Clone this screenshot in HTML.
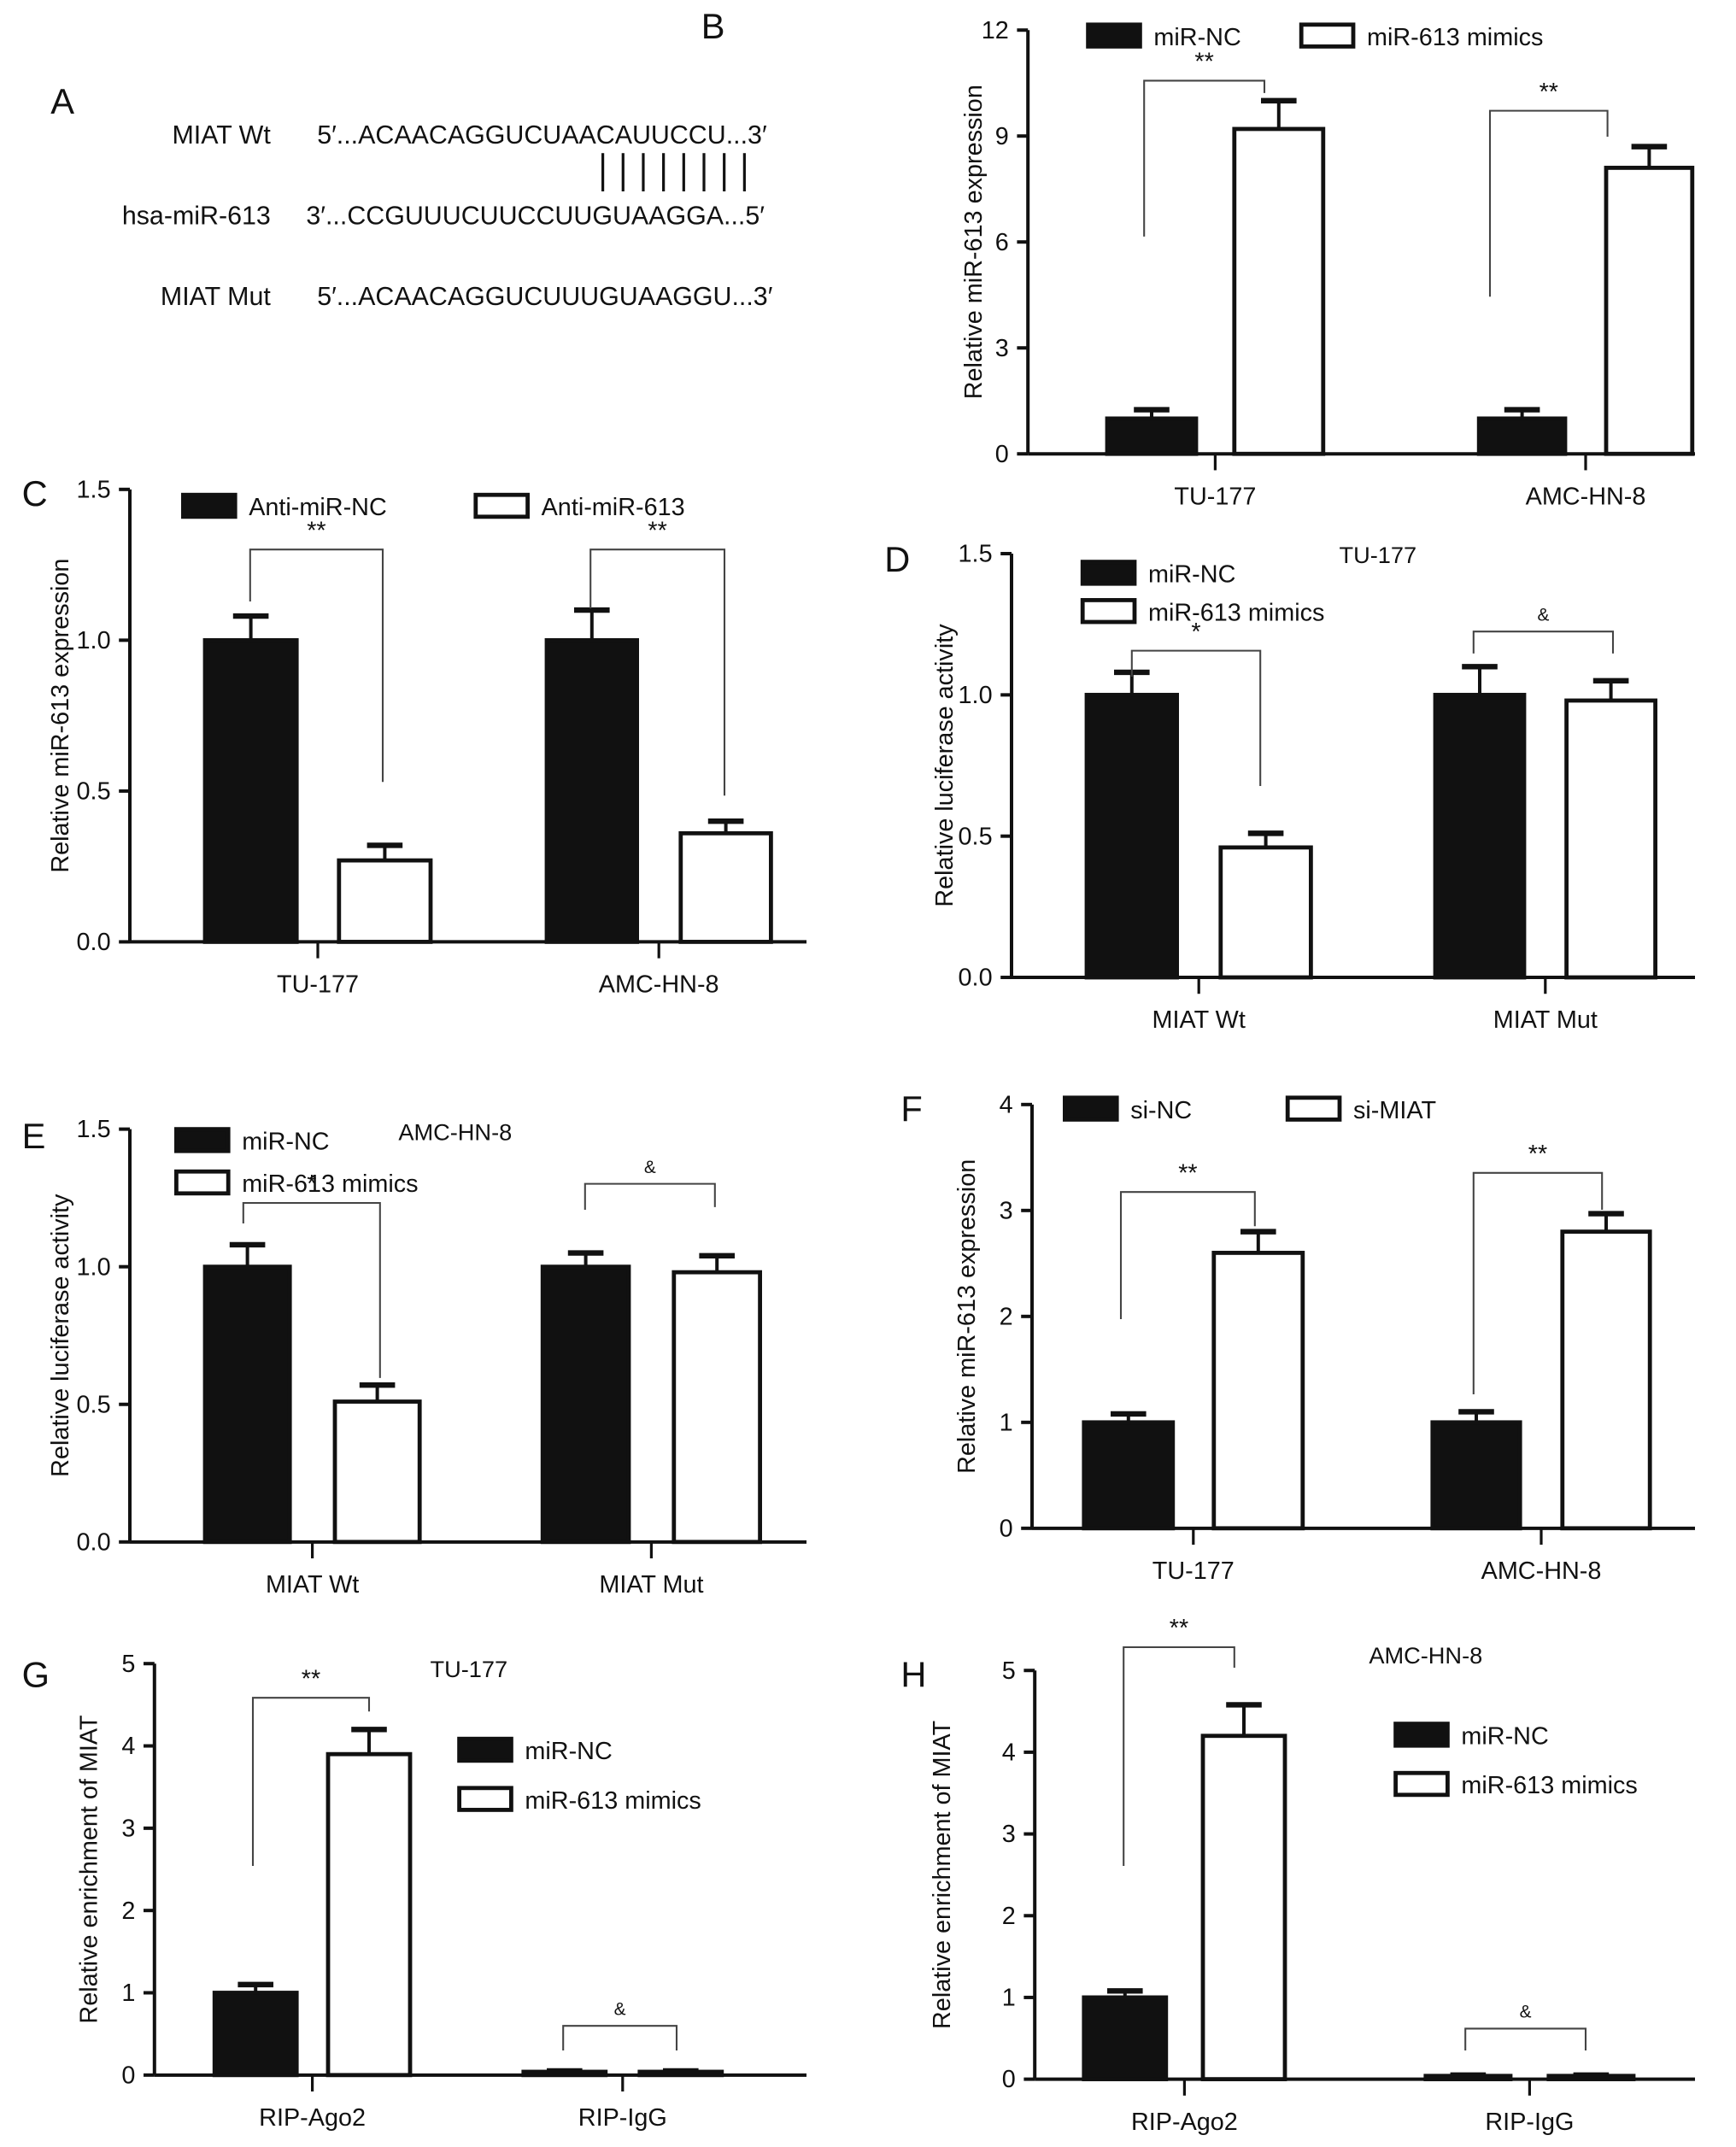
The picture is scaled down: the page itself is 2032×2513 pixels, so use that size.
<!DOCTYPE html>
<html><head><meta charset="utf-8">
<style>
html,body{margin:0;padding:0;background:#fff;}
svg{display:block;font-family:"Liberation Sans",Arial,sans-serif;}
</style></head>
<body>
<svg id="fig" xmlns="http://www.w3.org/2000/svg" width="2032" height="2513" viewBox="0 0 1270 1570.6">
<rect width="1270" height="1571" fill="#fff"/>
<g font-size="19" fill="#111">
<text x="37" y="83" font-size="26">A</text>
<text x="198" y="105" text-anchor="end">MIAT Wt</text>
<text x="232" y="105">5′...ACAACAGGUCUAACAUUCCU...3′</text>
<text x="198" y="164" text-anchor="end">hsa-miR-613</text>
<text x="224" y="164">3′...CCGUUUCUUCCUUGUAAGGA...5′</text>
<text x="198" y="223" text-anchor="end">MIAT Mut</text>
<text x="232" y="223">5′...ACAACAGGUCUUUGUAAGGU...3′</text>
<g id="pairs" stroke="#111" stroke-width="2"></g>
</g>
<g id="charts"></g>
</svg>
<script>
// Panel B
const bCats=["TU-177","AMC-HN-8"], bNC=[1.0,1.0], bNCErr=[0.25,0.25], bMim=[9.2,8.1], bMimErr=[0.8,0.6], bTicks=[0,3,6,9,12];
// Panel C
const cCats=["TU-177","AMC-HN-8"], cNC=[1.0,1.0], cNCErr=[0.08,0.1], cAnti=[0.27,0.36], cAntiErr=[0.05,0.04], cTicks=[0,0.5,1.0,1.5];
// Panel D
const dCats=["MIAT Wt","MIAT Mut"], dNC=[1.0,1.0], dNCErr=[0.08,0.1], dMim=[0.46,0.98], dMimErr=[0.05,0.07], dTicks=[0,0.5,1.0,1.5];
// Panel E
const eCats=["MIAT Wt","MIAT Mut"], eNC=[1.0,1.0], eNCErr=[0.08,0.05], eMim=[0.51,0.98], eMimErr=[0.06,0.06], eTicks=[0,0.5,1.0,1.5];
// Panel F
const fCats=["TU-177","AMC-HN-8"], fNC=[1.0,1.0], fNCErr=[0.08,0.1], fSi=[2.6,2.8], fSiErr=[0.2,0.17], fTicks=[0,1,2,3,4];
// Panel G
const gCats=["RIP-Ago2","RIP-IgG"], gNC=[1.0,0.04], gNCErr=[0.1,0.01], gMim=[3.9,0.04], gMimErr=[0.3,0.01], gTicks=[0,1,2,3,4,5];
// Panel H
const hCats=["RIP-Ago2","RIP-IgG"], hNC=[1.0,0.04], hNCErr=[0.08,0.01], hMim=[4.2,0.04], hMimErr=[0.38,0.01], hTicks=[0,1,2,3,4,5];

const NS="http://www.w3.org/2000/svg";
function mk(parent,tag,attrs,text){const e=document.createElementNS(NS,tag);for(const k in attrs)e.setAttribute(k,attrs[k]);if(text!==undefined)e.textContent=text;parent.appendChild(e);return e;}

const pairs=document.getElementById('pairs');
for(let i=0;i<8;i++){const l=mk(pairs,'line',{x1:441+i*14.8,x2:441+i*14.8,y1:112,y2:140});

}

const root=document.getElementById('charts');
function fmt(v,dec){return dec?v.toFixed(1):String(v);}
function panel(o){
  const g=mk(root,'g',{});
  
  
  const max=o.ticks[o.ticks.length-1];
  const y=v=>o.y0-(o.y0-o.yTop)*v/max;
  const lab=mk(g,'text',{x:o.lx,y:o.ly,'font-size':26,fill:'#111'},o.id.toUpperCase());
  
  
  const ax=mk(g,'line',{x1:o.ax,x2:o.ax,y1:o.yTop,y2:o.y0,stroke:'#111','stroke-width':2.5});
  
  
  const xa=mk(g,'line',{x1:o.ax,x2:o.xEnd,y1:o.y0,y2:o.y0,stroke:'#111','stroke-width':2.5});
  
  
  o.ticks.forEach(t=>{
    mk(g,'line',{x1:o.ax-8,x2:o.ax,y1:y(t),y2:y(t),stroke:'#111','stroke-width':2.5});
    const tl=mk(g,'text',{x:o.ax-14,y:y(t)+6,'text-anchor':'end','font-size':18,fill:'#111'},fmt(t,o.dec));
    
    
  });
  const yt=mk(g,'text',{transform:`translate(${o.tx},${(o.yTop+o.y0)/2}) rotate(-90)`,'text-anchor':'middle','font-size':18,fill:'#111'},o.ytitle);
  
  
  if(o.title){const tt=mk(g,'text',{x:o.title[1],y:o.title[2],'text-anchor':'middle','font-size':17,fill:'#111'},o.title[0]);
    
    }
  o.cats.forEach((c,i)=>{
    const gg=o.geo[i];
    const mid=(gg[0]+gg[1]+gg[2])/2;
    mk(g,'line',{x1:mid,x2:mid,y1:o.y0,y2:o.y0+12,stroke:'#111','stroke-width':2});
    const cl=mk(g,'text',{x:mid,y:o.y0+37,'text-anchor':'middle','font-size':18,fill:'#111'},c);
    
    
    [[o.s1[i],o.e1[i],gg[0],'#111','bar-control'],[o.s2[i],o.e2[i],gg[2],'#fff','bar-treatment']].forEach(([v,e,x,fill,nm])=>{
      const w=gg[1];
      const top=y(v), et=y(v+e);
      const el=mk(g,'line',{x1:x+w/2,x2:x+w/2,y1:et,y2:top,stroke:'#111','stroke-width':2.5});
      
      
      mk(g,'line',{x1:x+w/2-13,x2:x+w/2+13,y1:et,y2:et,stroke:'#111','stroke-width':4});
      const r=mk(g,'rect',{x:x,y:top,width:w,height:Math.max(o.y0-top,1),fill:fill,stroke:'#111','stroke-width':3});
      
      
    });
    const b=o.br[i];
    const br=mk(g,'polyline',{points:`${b[0]},${b[1]} ${b[0]},${b[2]} ${b[3]},${b[2]} ${b[3]},${b[4]}`,fill:'none',stroke:'#444','stroke-width':1.3});
    
    
    const st=mk(g,'text',{x:(b[0]+b[3])/2,y:b[2]-8,'text-anchor':'middle','font-size':b[5]==='&'?13:18,fill:'#111'},b[5]);
    
    
  });
  o.leg.forEach((l,k)=>{
    const lr=mk(g,'rect',{x:l[0],y:l[1],width:38,height:16,fill:k?'#fff':'#111',stroke:'#111','stroke-width':3});
    
    
    const lt=mk(g,'text',{x:l[0]+48,y:l[1]+15,'font-size':18,fill:'#111'},l[2]);
    
    
  });
}
panel({id:'b',lx:513,ly:28,ax:752,y0:332,yTop:22,xEnd:1240,tx:718,ticks:bTicks,dec:false,cats:bCats,s1:bNC,e1:bNCErr,s2:bMim,e2:bMimErr,
 geo:[[810,65,903],[1082,63,1175]],ytitle:'Relative miR-613 expression',
 br:[[837,173,59,925,68,'**'],[1090,217,81,1176,100,'**']],leg:[[796,18,'miR-NC'],[952,18,'miR-613 mimics']]});
panel({id:'c',lx:16,ly:370,ax:95,y0:689,yTop:358,xEnd:590,tx:50,ticks:cTicks,dec:true,cats:cCats,s1:cNC,e1:cNCErr,s2:cAnti,e2:cAntiErr,
 geo:[[150,67,248],[400,66,498]],ytitle:'Relative miR-613 expression',
 br:[[183,440,402,280,572,'**'],[432,445,402,530,582,'**']],leg:[[134,362,'Anti-miR-NC'],[348,362,'Anti-miR-613']]});
panel({id:'d',lx:647,ly:418,ax:740,y0:715,yTop:405,xEnd:1240,tx:697,ticks:dTicks,dec:true,cats:dCats,s1:dNC,e1:dNCErr,s2:dMim,e2:dMimErr,
 geo:[[795,66,893],[1050,65,1146]],ytitle:'Relative luciferase activity',title:['TU-177',1008,412],
 br:[[828,495,476,922,575,'*'],[1078,478,462,1180,478,'&']],leg:[[792,411,'miR-NC'],[792,439,'miR-613 mimics']]});
panel({id:'e',lx:16,ly:840,ax:95,y0:1128,yTop:826,xEnd:590,tx:50,ticks:eTicks,dec:true,cats:eCats,s1:eNC,e1:eNCErr,s2:eMim,e2:eMimErr,
 geo:[[150,62,245],[397,63,493]],ytitle:'Relative luciferase activity',title:['AMC-HN-8',333,834],
 br:[[178,895,880,278,1008,'*'],[428,885,866,523,883,'&']],leg:[[129,826,'miR-NC'],[129,857,'miR-613 mimics']]});
panel({id:'f',lx:659,ly:820,ax:755,y0:1118,yTop:808,xEnd:1240,tx:713,ticks:fTicks,dec:false,cats:fCats,s1:fNC,e1:fNCErr,s2:fSi,e2:fSiErr,
 geo:[[793,65,888],[1048,64,1143]],ytitle:'Relative miR-613 expression',
 br:[[820,965,872,918,897,'**'],[1078,1020,858,1172,885,'**']],leg:[[779,803,'si-NC'],[942,803,'si-MIAT']]});
panel({id:'g',lx:16,ly:1234,ax:113,y0:1518,yTop:1217,xEnd:590,tx:71,ticks:gTicks,dec:false,cats:gCats,s1:gNC,e1:gNCErr,s2:gMim,e2:gMimErr,
 geo:[[157,60,240],[383,60,468]],ytitle:'Relative enrichment of MIAT',title:['TU-177',343,1227],
 br:[[185,1365,1242,270,1252,'**'],[412,1500,1482,495,1500,'&']],leg:[[336,1272,'miR-NC'],[336,1308,'miR-613 mimics']]});
panel({id:'h',lx:659,ly:1234,ax:757,y0:1521,yTop:1222,xEnd:1240,tx:695,ticks:hTicks,dec:false,cats:hCats,s1:hNC,e1:hNCErr,s2:hMim,e2:hMimErr,
 geo:[[793,60,880],[1043,62,1133]],ytitle:'Relative enrichment of MIAT',title:['AMC-HN-8',1043,1217],
 br:[[822,1365,1205,903,1220,'**'],[1072,1500,1484,1160,1500,'&']],leg:[[1021,1261,'miR-NC'],[1021,1297,'miR-613 mimics']]});
</script>
</body></html>
